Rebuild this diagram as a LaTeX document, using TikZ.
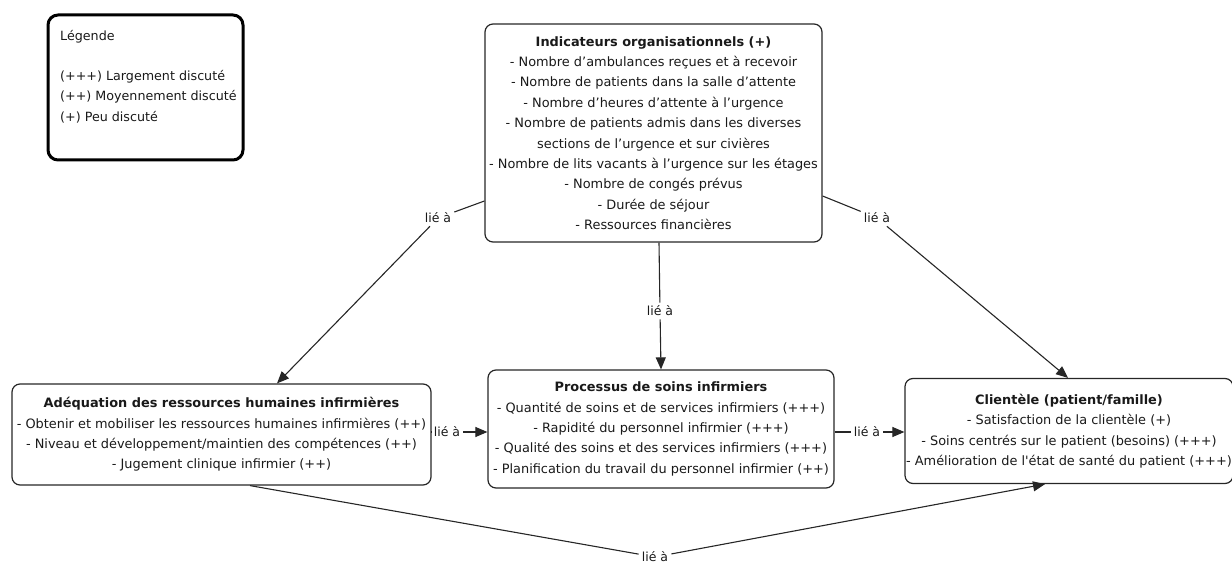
\documentclass[tikz,border=0pt]{standalone}
\usepackage{fontspec}
\setmainfont{DejaVu Sans}
\usetikzlibrary{arrows.meta}
\begin{document}
\begin{tikzpicture}[x=1pt,y=-1pt,
  box/.style={draw=black!85, line width=1.2pt, rounded corners=8pt, align=center,
    inner sep=0pt, text=black!90, font=\fontsize{12.9}{20.4}\selectfont},
  legendbox/.style={draw=black, line width=3pt, rounded corners=10pt},
  linklabel/.style={inner sep=3pt, text=black!90, font=\fontsize{12.5}{14}\selectfont},
  conn/.style={draw=black!85, line width=1.1pt},
  arr/.style={conn, -{Triangle[length=12pt,width=10pt]}},
]
\useasboundingbox (0,0) rectangle (1232,569);

% legend
\node[legendbox, minimum width=195pt, minimum height=145pt] (legend) at (145.5,87.5) {};
\node[anchor=north west, align=left, inner sep=0pt, text=black!90,
  font=\fontsize{12.7}{20.2}\selectfont] (legendtext) at (60,30)
  {Légende\\ \\(+++) Largement discuté\\(++) Moyennement discuté\\(+) Peu discuté};

% concept boxes
\node[box, minimum width=337pt, minimum height=218pt] (org) at (653.5,133)
  {\textbf{Indicateurs organisationnels (+)}\\
   - Nombre d’ambulances reçues et à recevoir\\
   - Nombre de patients dans la salle d’attente\\
   - Nombre d’heures d’attente à l’urgence\\
   - Nombre de patients admis dans les diverses\\
   sections de l’urgence et sur civières\\
   - Nombre de lits vacants à l’urgence sur les étages\\
   - Nombre de congés prévus\\
   - Durée de séjour\\
   - Ressources financières};

\node[box, minimum width=419pt, minimum height=101pt] (rh) at (221.5,434.5)
  {\textbf{Adéquation des ressources humaines infirmières}\\
   - Obtenir et mobiliser les ressources humaines infirmières (++)\\
   - Niveau et développement/maintien des compétences (++)\\
   - Jugement clinique infirmier (++)};

\node[box, minimum width=346pt, minimum height=118pt] (proc) at (661,429)
  {\textbf{Processus de soins infirmiers}\\
   - Quantité de soins et de services infirmiers (+++)\\
   - Rapidité du personnel infirmier (+++)\\
   - Qualité des soins et des services infirmiers (+++)\\
   - Planification du travail du personnel infirmier (++)};

\node[box, minimum width=328pt, minimum height=105pt] (cli) at (1069,431)
  {\textbf{Clientèle (patient/famille)}\\
   - Satisfaction de la clientèle (+)\\
   - Soins centrés sur le patient (besoins) (+++)\\
   - Amélioration de l\textquotesingle état de santé du patient (+++)};

% linking phrases
\node[linklabel] (l1) at (438,218) {lié à};
\node[linklabel] (l2) at (877,218) {lié à};
\node[linklabel] (l3) at (660,311) {lié à};
\node[linklabel] (l4) at (447,432) {lié à};
\node[linklabel] (l5) at (867,432) {lié à};
\node[linklabel] (l6) at (655,557) {lié à};

% connectors
\draw[conn] ([yshift=-68pt]org.west) -- (l1);
\draw[arr] (l1) -- ([xshift=55.5pt]rh.north);
\draw[conn] ([yshift=-63pt]org.east) -- (l2);
\draw[arr] (l2) -- ([xshift=-1pt]cli.north);
\draw[conn] ([xshift=5.5pt]org.south) -- (l3);
\draw[arr] (l3) -- (proc.north);
\draw[conn] (rh.east |- l4) -- (l4);
\draw[arr] (l4) -- (proc.west |- l4);
\draw[conn] (proc.east |- l5) -- (l5);
\draw[arr] (l5) -- (cli.west |- l5);
\draw[conn] ([xshift=28.5pt]rh.south) -- (l6);
\draw[arr] (l6) -- ([xshift=-24pt]cli.south);
\end{tikzpicture}
\end{document}
